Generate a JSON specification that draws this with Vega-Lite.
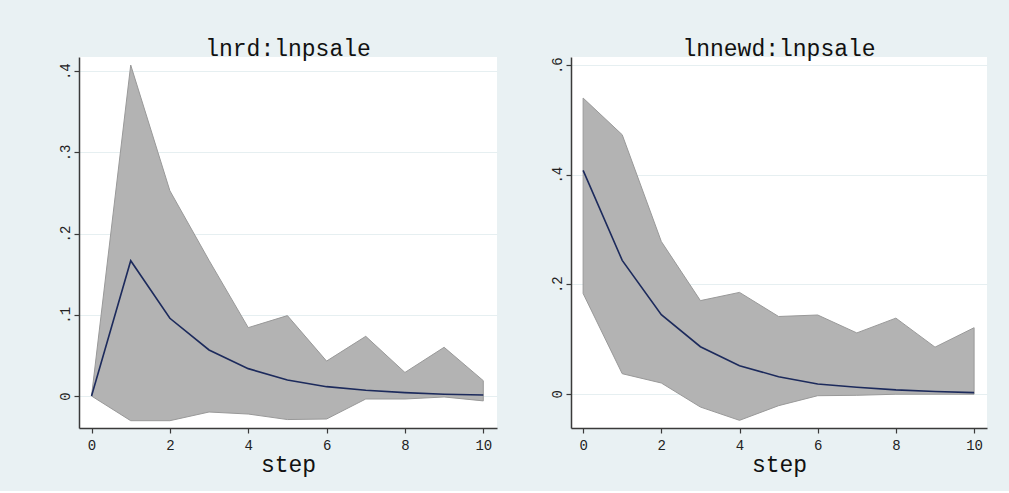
{
  "$schema": "https://vega.github.io/schema/vega-lite/v6.json",
  "background": "#e9f1f3",
  "padding": {"left": 58, "top": 37, "right": 23, "bottom": 15},
  "spacing": 74,
  "bounds": "flush",
  "config": {
    "view": {"fill": "white", "stroke": null},
    "font": "'Liberation Mono', 'Courier New', monospace",
    "title": {"font": "'Liberation Mono', 'Courier New', monospace", "fontSize": 23, "fontWeight": "normal", "color": "#111", "anchor": "middle", "baseline": "alphabetic", "offset": -4},
    "axis": {
      "labelFont": "'Liberation Mono', 'Courier New', monospace", "labelFontSize": 14, "labelColor": "#222",
      "titleFont": "'Liberation Mono', 'Courier New', monospace", "titleFontWeight": "normal", "titleColor": "#111",
      "domainColor": "#3a3a3a", "domainWidth": 1.5, "tickColor": "#3a3a3a", "tickWidth": 1.2, "tickSize": 5
    }
  },
  "datasets": {
    "rd": [
      {"step": 0, "irf": 0, "lo": 0, "hi": 0},
      {"step": 1, "irf": 0.1666, "lo": -0.0304, "hi": 0.4076},
      {"step": 2, "irf": 0.0957, "lo": -0.0304, "hi": 0.2528},
      {"step": 3, "irf": 0.0567, "lo": -0.0197, "hi": 0.167},
      {"step": 4, "irf": 0.0337, "lo": -0.0222, "hi": 0.0842},
      {"step": 5, "irf": 0.0197, "lo": -0.029, "hi": 0.099},
      {"step": 6, "irf": 0.0115, "lo": -0.0283, "hi": 0.043},
      {"step": 7, "irf": 0.007, "lo": -0.0037, "hi": 0.0735},
      {"step": 8, "irf": 0.0042, "lo": -0.0037, "hi": 0.029},
      {"step": 9, "irf": 0.0022, "lo": -0.0012, "hi": 0.06},
      {"step": 10, "irf": 0.0012, "lo": -0.006, "hi": 0.0189}
    ],
    "newd": [
      {"step": 0, "irf": 0.408, "lo": 0.183, "hi": 0.54},
      {"step": 1, "irf": 0.2435, "lo": 0.0365, "hi": 0.473},
      {"step": 2, "irf": 0.1443, "lo": 0.0195, "hi": 0.278},
      {"step": 3, "irf": 0.0858, "lo": -0.0244, "hi": 0.17},
      {"step": 4, "irf": 0.0511, "lo": -0.0487, "hi": 0.185},
      {"step": 5, "irf": 0.031, "lo": -0.0219, "hi": 0.141},
      {"step": 6, "irf": 0.0177, "lo": -0.0037, "hi": 0.1437},
      {"step": 7, "irf": 0.0116, "lo": -0.003, "hi": 0.111},
      {"step": 8, "irf": 0.007, "lo": -0.001, "hi": 0.138},
      {"step": 9, "irf": 0.004, "lo": -0.001, "hi": 0.085},
      {"step": 10, "irf": 0.002, "lo": -0.001, "hi": 0.1205}
    ]
  },
  "hconcat": [
    {
      "width": 418, "height": 371,
      "title": "lnrd:lnpsale",
      "data": {"name": "rd"},
      "encoding": {
        "x": {"field": "step", "type": "quantitative", "scale": {"domain": [-0.32, 10.35], "nice": false, "zero": false},
              "axis": {"values": [0, 2, 4, 6, 8, 10], "grid": false, "title": "step", "titleFontSize": 23, "titlePadding": 1, "labelPadding": 5}}
      },
      "layer": [
        {
          "mark": {"type": "area", "fill": "#b3b3b3", "stroke": "#999999", "strokeWidth": 1},
          "encoding": {
            "y": {"field": "hi", "type": "quantitative", "scale": {"domain": [-0.0394, 0.4175], "nice": false, "zero": false},
                  "axis": {"values": [0, 0.1, 0.2, 0.3, 0.4], "title": null, "grid": true, "gridColor": "#e6eff1", "gridWidth": 1,
                           "labelAngle": -90, "labelAlign": "center", "labelBaseline": "alphabetic", "labelPadding": 5,
                           "labelExpr": "datum.value == 0 ? '0' : replace(format(datum.value, '.1f'), '0.', '.')"}},
            "y2": {"field": "lo"}
          }
        },
        {
          "mark": {"type": "line", "color": "#1c2a5c", "strokeWidth": 1.6},
          "encoding": {"y": {"field": "irf", "type": "quantitative"}}
        }
      ]
    },
    {
      "width": 416, "height": 371,
      "title": "lnnewd:lnpsale",
      "data": {"name": "newd"},
      "encoding": {
        "x": {"field": "step", "type": "quantitative", "scale": {"domain": [-0.31, 10.33], "nice": false, "zero": false},
              "axis": {"values": [0, 2, 4, 6, 8, 10], "grid": false, "title": "step", "titleFontSize": 23, "titlePadding": 1, "labelPadding": 5}}
      },
      "layer": [
        {
          "mark": {"type": "area", "fill": "#b3b3b3", "stroke": "#999999", "strokeWidth": 1},
          "encoding": {
            "y": {"field": "hi", "type": "quantitative", "scale": {"domain": [-0.0627, 0.615], "nice": false, "zero": false},
                  "axis": {"values": [0, 0.2, 0.4, 0.6], "title": null, "grid": true, "gridColor": "#e6eff1", "gridWidth": 1,
                           "labelAngle": -90, "labelAlign": "center", "labelBaseline": "alphabetic", "labelPadding": 5,
                           "labelExpr": "datum.value == 0 ? '0' : replace(format(datum.value, '.1f'), '0.', '.')"}},
            "y2": {"field": "lo"}
          }
        },
        {
          "mark": {"type": "line", "color": "#1c2a5c", "strokeWidth": 1.6},
          "encoding": {"y": {"field": "irf", "type": "quantitative"}}
        }
      ]
    }
  ]
}
